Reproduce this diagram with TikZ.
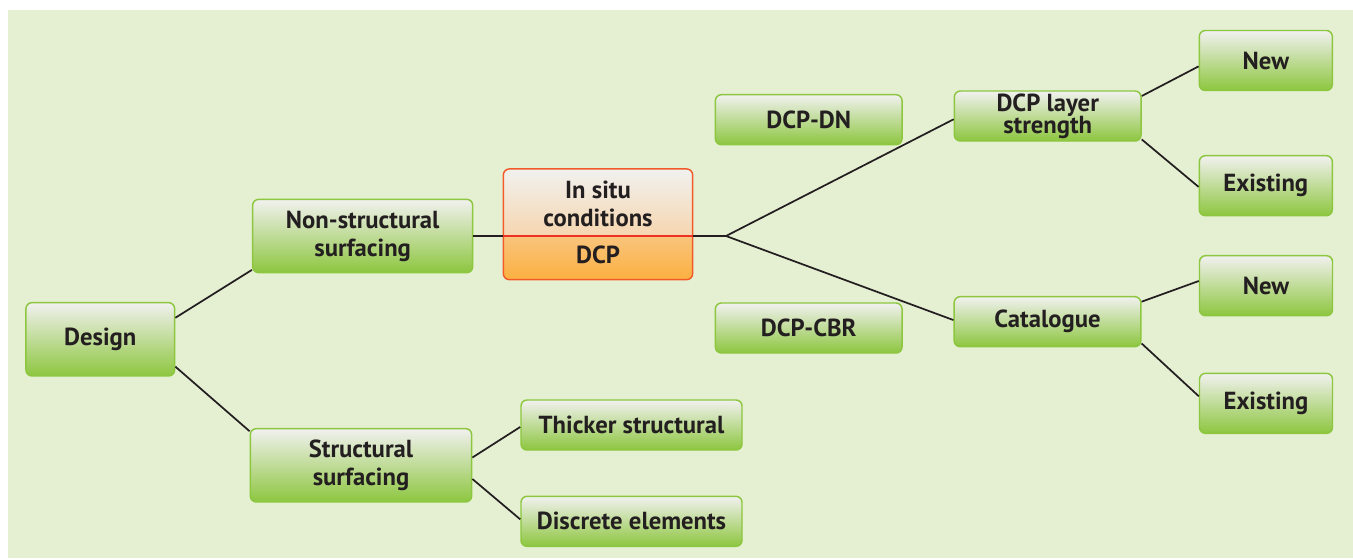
\documentclass[tikz,border=0pt]{standalone}
\usepackage{fontspec}
\setmainfont{PT Sans}

\definecolor{bgpale}{RGB}{229,240,211}
\definecolor{leaf}{RGB}{141,198,63}
\definecolor{leaftop}{RGB}{241,241,239}
\definecolor{situedge}{RGB}{241,90,41}
\definecolor{situline}{RGB}{237,50,36}
\definecolor{situbot}{RGB}{251,176,64}
\definecolor{situpeach}{RGB}{249,196,124}
\definecolor{situmid}{RGB}{246,214,176}
\definecolor{ink}{RGB}{35,31,32}

\pgfdeclareverticalshading{situshade}{100bp}{color(0bp)=(situbot); color(25bp)=(situbot); color(44.5bp)=(situpeach); color(45bp)=(situmid); color(75bp)=(leaftop); color(100bp)=(leaftop)}

\tikzset{
  leafbox/.style={draw=leaf, line width=1.1pt, rounded corners=4.5pt,
    top color=leaftop, bottom color=leaf, text=ink, align=center,
    inner sep=0pt, font=\bfseries\fontsize{18.5}{21}\selectfont},
  situbox/.style={draw=situedge, line width=1.1pt, rounded corners=4.5pt,
    shading=situshade, inner sep=0pt},
  situtext/.style={text=ink, align=center, inner sep=0pt,
    font=\bfseries\fontsize{18.5}{20.5}\selectfont},
  link/.style={draw=ink, line width=1.3pt},
}

\begin{document}
\begin{tikzpicture}[x=0.75pt,y=-0.75pt]
%\draw [help lines] (0,0) grid (1353,558);
\fill [white] (0,0) rectangle (1353,558);
\fill [bgpale] (8,10) rectangle (1353,558);

 \node [leafbox, minimum width=111.5pt, minimum height=55pt] (design) at (100.3,339.3) {Design};
 \node [leafbox, minimum width=165pt, minimum height=55pt] (nonstruct) at (362.7,236) {Non-structural\\surfacing};
 \node [leafbox, minimum width=166pt, minimum height=55pt] (struct) at (361,465.3) {Structural\\surfacing};
 \node [leafbox, minimum width=165.75pt, minimum height=37.5pt] (thicker) at (631.5,425) {Thicker structural};
 \node [leafbox, minimum width=165.75pt, minimum height=37.5pt] (discrete) at (631.5,521.3) {Discrete elements};

 \node [situbox, minimum width=142pt, minimum height=83pt] (situ) at (598,224.3) {};
 \node [situtext] (insitu) at (598,204) {In situ\\conditions};
 \node [situtext] (dcp) at (598,254.5) {DCP};
 \coordinate (fork) at (726,236);
\draw [situline, line width=1.4pt] (situ.west |- fork)--(situ.east |- fork);

 \node [leafbox, minimum width=140pt, minimum height=37.5pt] (dcpdn) at (808.7,119.7) {DCP-DN};
 \node [leafbox, minimum width=140pt, minimum height=37.5pt] (dcpcbr) at (808.7,328) {DCP-CBR};
 \node [leafbox, minimum width=140pt, minimum height=37.5pt] (layer) at (1047.7,116) {DCP layer\\[-4.5pt]strength};
 \node [leafbox, minimum width=140pt, minimum height=37.5pt] (catalogue) at (1047.5,321.7) {Catalogue};

 \node [leafbox, minimum width=99.75pt, minimum height=45pt] (newtop) at (1265.8,60.5) {New};
 \node [leafbox, minimum width=99.75pt, minimum height=45pt] (existtop) at (1265.8,185.7) {Existing};
 \node [leafbox, minimum width=99.75pt, minimum height=45pt] (newbot) at (1266,285.7) {New};
 \node [leafbox, minimum width=99.75pt, minimum height=45pt] (existbot) at (1266,403.3) {Existing};

\draw [link] (design.16.5)--(nonstruct.197.7);
\draw [link] (design.-20.9)--(struct.163);
\draw [link] (struct.4.4)--(thicker.181.9);
\draw [link] (struct.-7.2)--(discrete.179);
\draw [link] (nonstruct.east)--(situ.west |- nonstruct.east);
\draw [link] (situ.east |- fork)--(fork);
\draw [link] (fork)--(layer.182.9);
\draw [link] (fork)--(catalogue.179);
\draw [link] (layer.12.1)--(newtop.185.3);
\draw [link] (layer.-14.3)--(existtop.181.4);
\draw [link] (catalogue.12.7)--(newbot.176.2);
\draw [link] (catalogue.-13.5)--(existbot.174.9);
\end{tikzpicture}
\end{document}
